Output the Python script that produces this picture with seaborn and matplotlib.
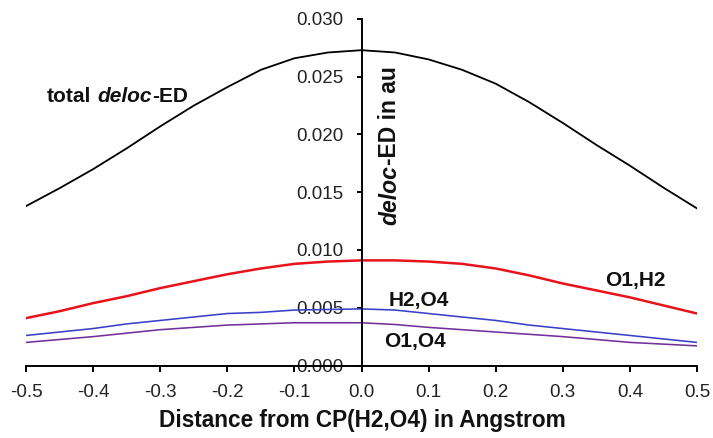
import matplotlib
matplotlib.use("Agg")
import matplotlib.pyplot as plt
import numpy as np
import pandas as pd
import seaborn as sns

# Distance from the bond critical point (Angstrom)
distance = [-0.50, -0.45, -0.40, -0.35, -0.30, -0.25, -0.20, -0.15, -0.10, -0.05,
            0.00, 0.05, 0.10, 0.15, 0.20, 0.25, 0.30, 0.35, 0.40, 0.45, 0.50]

# Delocalised electron density (au)
total_deloc = [0.0138, 0.01535, 0.0170, 0.0188, 0.0207, 0.0225, 0.0241, 0.0256, 0.0266, 0.0271,
               0.0273, 0.0271, 0.0265, 0.0256, 0.0244, 0.0228, 0.0210, 0.0191, 0.0173, 0.0154, 0.0136]
o1_h2 = [0.0041, 0.0047, 0.0054, 0.0060, 0.0067, 0.0073, 0.0079, 0.0084, 0.0088, 0.0090,
         0.0091, 0.0091, 0.0090, 0.0088, 0.0084, 0.0078, 0.0071, 0.0065, 0.0059, 0.0052, 0.0045]
h2_o4 = [0.0026, 0.0029, 0.0032, 0.0036, 0.0039, 0.0042, 0.0045, 0.0046, 0.0048, 0.00485,
         0.0049, 0.0048, 0.0045, 0.0042, 0.0039, 0.0035, 0.0032, 0.0029, 0.0026, 0.0023, 0.0020]
o1_o4 = [0.0020, 0.00225, 0.0025, 0.0028, 0.0031, 0.0033, 0.0035, 0.0036, 0.0037, 0.0037,
         0.0037, 0.00355, 0.0033, 0.0031, 0.0029, 0.0027, 0.0025, 0.00225, 0.0020, 0.00185, 0.0017]

series_names = ["total", "O1,H2", "H2,O4", "O1,O4"]
x_ticks = [-0.5, -0.4, -0.3, -0.2, -0.1, 0.0, 0.1, 0.2, 0.3, 0.4, 0.5]
x_tick_labels = ["-0.5", "-0.4", "-0.3", "-0.2", "-0.1", "0.0", "0.1", "0.2", "0.3", "0.4", "0.5"]
y_ticks = [0.000, 0.005, 0.010, 0.015, 0.020, 0.025, 0.030]
y_tick_labels = ["0.000", "0.005", "0.010", "0.015", "0.020", "0.025", "0.030"]

sns.set_theme(style="white")
plt.rcParams["font.family"] = ["Liberation Sans", "DejaVu Sans"]

df = pd.DataFrame({
    "distance": distance * 4,
    "deloc": total_deloc + o1_h2 + h2_o4 + o1_o4,
    "pair": [n for n in series_names for _ in distance],
})

palette = {"total": "#000000", "O1,H2": "#e8131a", "H2,O4": "#3a40c8", "O1,O4": "#74309a"}
widths = {"total": 1.3, "O1,H2": 1.8, "H2,O4": 1.15, "O1,O4": 1.15}

W, H = 713, 438
fig = plt.figure(figsize=(W / 100, H / 100), dpi=100)
ax = fig.add_axes([26 / W, 1 - 365.5 / H, 671 / W, (365.5 - 19) / H])

sns.lineplot(data=df, x="distance", y="deloc", hue="pair", hue_order=series_names,
             palette=palette, legend=False, ax=ax, estimator=None, sort=False)
for line, name in zip(ax.get_lines(), series_names):
    line.set_linewidth(widths[name])
    line.set_solid_joinstyle("round")

ax.set_xlim(-0.5, 0.5)
ax.set_ylim(0, 0.030)
for side in ("top", "right"):
    ax.spines[side].set_visible(False)
ax.spines["left"].set_position(("data", 0))
ax.spines["bottom"].set_position(("data", 0))
for side in ("left", "bottom"):
    ax.spines[side].set_color("black")
    ax.spines[side].set_linewidth(1.4)

ax.set_xticks(x_ticks)
ax.set_xticklabels(x_tick_labels, fontsize=13.5, color="#222222")
ax.set_yticks(y_ticks)
ax.set_yticklabels(y_tick_labels, fontsize=13.5, color="#222222")
ax.tick_params(axis="x", direction="out", length=4.5, width=1.4, color="black", pad=8.5, bottom=True)
ax.tick_params(axis="y", direction="out", length=3.3, width=1.4, color="black", pad=10, left=True)
ax.set_xlabel("")
ax.set_ylabel("")

fig.text(362 / W, 1 - 420 / H, "Distance from CP(H2,O4) in Angstrom", ha="center", va="center",
         fontsize=16.3, fontweight="bold", color="#111111")

# Series labels
label_kw = dict(fontsize=15, fontweight="bold", color="#111111", ha="center", va="center")
ax.text(0.408, 0.0074, "O1,H2", **label_kw)
ax.text(0.085, 0.00567, "H2,O4", **label_kw)
ax.text(0.080, 0.00212, "O1,O4", **label_kw)

fig.canvas.draw()
renderer = fig.canvas.get_renderer()


def write_run(x, y, pieces, size, vertical=False):
    """Write consecutive text pieces with mixed styles starting at data point (x, y)."""
    pos_disp = ax.transData.transform((x, y))
    for text, style, gap in pieces:
        if vertical:
            pos_disp = pos_disp + np.array([0, gap])
        else:
            pos_disp = pos_disp + np.array([gap, 0])
        px, py = ax.transData.inverted().transform(pos_disp)
        t = ax.text(px, py, text, fontsize=size, fontweight="bold", fontstyle=style,
                    color="#111111", rotation=90 if vertical else 0,
                    rotation_mode="anchor", ha="left", va="baseline")
        ext = t.get_window_extent(renderer)
        if vertical:
            pos_disp = np.array([pos_disp[0], ext.y1])
        else:
            pos_disp = np.array([ext.x1, pos_disp[1]])


write_run(-0.469, 0.0228, [("total", "normal", 0), ("deloc", "italic", 6), ("-ED", "normal", 0)], 15)
write_run(0.052, 0.01216, [("deloc", "italic", 0), ("-ED in au", "normal", 0)], 16.5, vertical=True)

fig.savefig("out.png", dpi=100)
